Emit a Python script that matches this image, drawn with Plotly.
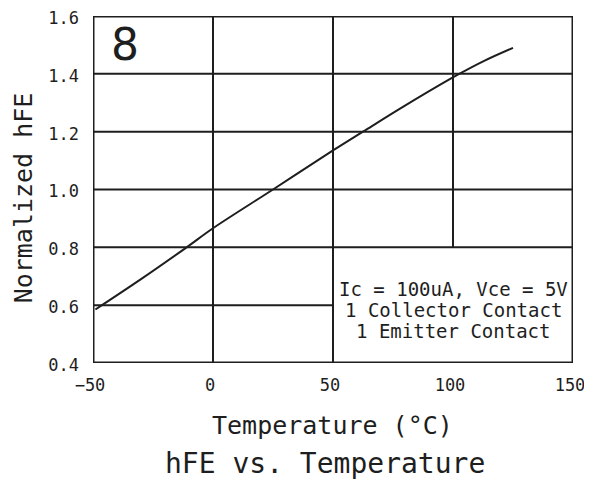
import plotly.graph_objects as go

# Data
temperature_c = [-49, -30, -11, 0, 25, 50, 62.5, 80, 102, 113, 125]
normalized_hfe = [0.585, 0.69, 0.80, 0.866, 1.00, 1.135, 1.20, 1.29, 1.397, 1.445, 1.49]

x_ticks = [-50, 0, 50, 100, 150]
y_ticks = [0.4, 0.6, 0.8, 1.0, 1.2, 1.4, 1.6]
y_tick_text = ["0.4", "0.6", "0.8", "1.0", "1.2", "1.4", "1.6"]

# Note box region (no grid inside)
box_x = [50, 150]
box_y = [0.4, 0.8]
note_lines = ["Ic = 100uA, Vce = 5V", "1 Collector Contact", "1 Emitter Contact"]

MONO = "DejaVu Sans Mono"
INK = "#1e1e1e"

fig = go.Figure()
fig.add_trace(go.Scatter(x=temperature_c, y=normalized_hfe, mode="lines",
                         line=dict(color=INK, width=2, shape="spline", smoothing=1.0),
                         showlegend=False, hoverinfo="skip"))

shapes = []
xmin, xmax = x_ticks[0], x_ticks[-1]
ymin, ymax = y_ticks[0], y_ticks[-1]
for xv in x_ticks[1:-1]:
    y0 = ymin
    if box_x[0] < xv < box_x[1]:
        y0 = box_y[1]
    shapes.append(dict(type="line", xref="x", yref="y", x0=xv, x1=xv, y0=y0, y1=ymax,
                       line=dict(color=INK, width=2)))
for yv in y_ticks[1:-1]:
    x1 = xmax
    if box_y[0] < yv < box_y[1]:
        x1 = box_x[0]
    shapes.append(dict(type="line", xref="x", yref="y", x0=xmin, x1=x1, y0=yv, y1=yv,
                       line=dict(color=INK, width=2)))
shapes.append(dict(type="rect", xref="x", yref="y", x0=xmin, x1=xmax, y0=ymin, y1=ymax,
                   line=dict(color=INK, width=3)))

annotations = [
    dict(x=-36.5, y=1.5, xref="x", yref="y", text="8", showarrow=False,
         xanchor="center", yanchor="middle",
         font=dict(family="DejaVu Sans", size=44, color=INK)),
    dict(x=0.498, y=-0.179, xref="paper", yref="paper", text="Temperature (°C)", showarrow=False,
         xanchor="center", yanchor="middle", font=dict(family=MONO, size=25, color=INK)),
    dict(x=0.483, y=-0.291, xref="paper", yref="paper", text="hFE vs. Temperature", showarrow=False,
         xanchor="center", yanchor="middle", font=dict(family=MONO, size=28, color=INK)),
    dict(x=-0.144, y=0.477, xref="paper", yref="paper", text="Normalized hFE", showarrow=False,
         xanchor="center", yanchor="middle", textangle=-90,
         font=dict(family=MONO, size=25, color=INK)),
]
for i, line in enumerate(note_lines):
    annotations.append(dict(x=100, y=0.583, xref="x", yref="y", text=line, showarrow=False,
                            xanchor="center", yanchor="middle", yshift=21 * (1 - i),
                            font=dict(family=MONO, size=19, color=INK)))

fig.update_layout(
    width=592, height=483,
    margin=dict(l=85, r=27, t=8, b=128),
    paper_bgcolor="white", plot_bgcolor="white",
    shapes=shapes, annotations=annotations,
    xaxis=dict(range=[xmin, xmax], tickvals=x_ticks, showgrid=False, zeroline=False,
               showline=False, ticks="", ticklabelstandoff=10, ticklabelshift=-3,
               ticklabeloverflow="allow", automargin=False,
               tickfont=dict(family=MONO, size=17, color=INK)),
    yaxis=dict(range=[ymin, ymax], tickvals=y_ticks, ticktext=y_tick_text, showgrid=False,
               zeroline=False, showline=False, ticks="", ticklabelstandoff=13,
               ticklabelshift=2, ticklabeloverflow="allow", automargin=False,
               tickfont=dict(family=MONO, size=17, color=INK)),
)

fig.write_html("out.html")
